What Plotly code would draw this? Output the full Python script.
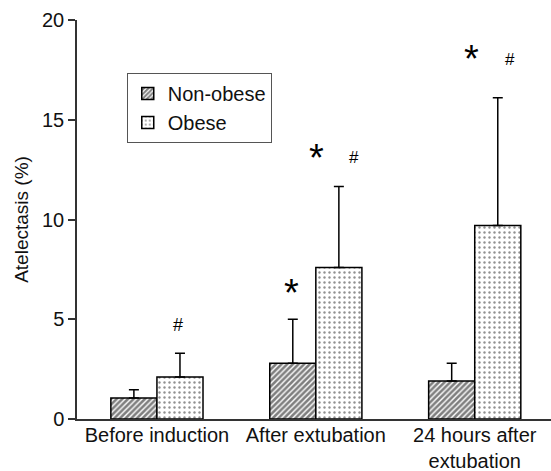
import plotly.graph_objects as go

categories = ["Before induction", "After extubation", "24 hours after<br>extubation"]
non_obese = [1.05, 2.8, 1.9]
non_obese_err = [0.42, 2.2, 0.9]
obese = [2.1, 7.6, 9.7]
obese_err = [1.2, 4.05, 6.4]
y_ticks = [0, 5, 10, 15, 20]

# significance markers: (text, x position in category units, y value, font size)
marks = [
    ("#", 0.13, 4.7, 18),
    ("*", 0.845, 6.3, 38),
    ("*", 1.005, 13.1, 38),
    ("#", 1.24, 13.1, 17),
    ("*", 1.98, 18.05, 38),
    ("#", 2.22, 18.0, 17),
]

FONT = "Liberation Sans, Arial, Helvetica, sans-serif"
xs = [0, 1, 2]

fig = go.Figure()
fig.add_trace(go.Bar(
    x=xs, y=non_obese, name="Non-obese",
    marker=dict(color="white", line=dict(color="black", width=1.5),
                pattern=dict(shape="/", fgcolor="black", bgcolor="white", size=4, solidity=0.65)),
    error_y=dict(type="data", array=non_obese_err, arrayminus=[0, 0, 0], symmetric=False,
                 color="black", thickness=1.5, width=5),
))
fig.add_trace(go.Bar(
    x=xs, y=obese, name="Obese",
    marker=dict(color="white", line=dict(color="black", width=1.5),
                pattern=dict(shape=".", fgcolor="#222", bgcolor="white", size=5, solidity=0.18)),
    error_y=dict(type="data", array=obese_err, arrayminus=[0, 0, 0], symmetric=False,
                 color="black", thickness=1.5, width=5),
))

for txt, x, y, s in marks:
    fig.add_annotation(x=x, y=y, text=txt, showarrow=False, yanchor="middle",
                       font=dict(family=FONT, size=s, color="black"), xref="x", yref="y")

fig.update_layout(
    width=551, height=471,
    margin=dict(l=77, r=0, t=20, b=52, autoexpand=False),
    paper_bgcolor="white", plot_bgcolor="white",
    barmode="group", bargap=0.42, bargroupgap=0,
    font=dict(family=FONT, size=20, color="#111"),
    showlegend=True,
    legend=dict(x=0.105, y=0.867, xanchor="left", yanchor="top",
                bordercolor="#555", borderwidth=1, bgcolor="white",
                font=dict(size=20, color="#111"), tracegroupgap=0,
                itemwidth=30),
    xaxis=dict(range=[-0.503, 2.48], tickvals=xs, ticktext=categories, automargin=False,
               showline=True, linecolor="#333", linewidth=1.5, ticks="",
               ticklabelstandoff=-3,
               showgrid=False, zeroline=False, tickfont=dict(size=20, color="#111")),
    yaxis=dict(range=[0, 20], tickvals=y_ticks, showline=True, linecolor="#333", linewidth=1.5,
               automargin=False,
               ticks="outside", ticklen=7, tickwidth=1.5, tickcolor="#333",
               showgrid=False, zeroline=False, tickfont=dict(size=20, color="#111")),
)
fig.update_yaxes(title=dict(text="Atelectasis (%)", font=dict(size=19, color="#111"), standoff=8))

fig.write_html("out.html", config={"displayModeBar": False},
               post_script="document.body.style.margin='0';")
